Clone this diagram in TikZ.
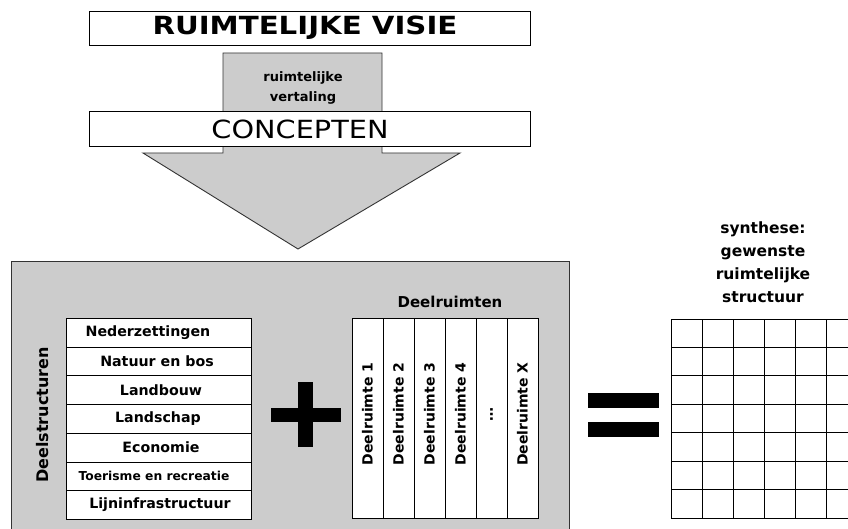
\documentclass[tikz,border=0pt]{standalone}
\usepackage{fontspec}
\setmainfont{DejaVu Sans}
\definecolor{fillgray}{RGB}{204,204,204}
\begin{document}
\begin{tikzpicture}[x=1pt,y=-1pt,
  gbox/.style={draw=black!80, line width=0.9pt, fill=fillgray},
  wbox/.style={draw=black, line width=1pt, fill=white, inner sep=0pt},
  rowtxt/.style={font=\fontsize{14.2}{16}\selectfont\bfseries, inner sep=0pt},
  coltxt/.style={font=\fontsize{14}{16}\selectfont\bfseries, inner sep=0pt, rotate=90},
  bar/.style={fill=black}]
\useasboundingbox (0,0) rectangle (848,529);
\clip (0,0) rectangle (848,529);

% top: visie box
\node[wbox, minimum width=441, minimum height=34, anchor=north west] (visie) at (89,11) {};
\node[font=\fontsize{25}{28}\selectfont\bfseries, inner sep=0pt] (visietxt) at (305,28) {\scalebox{1.17}[1]{RUIMTELIJKE VISIE}};

% big arrow
\draw[gbox] (223,53) -- (223,153) -- (143,153) -- (298,249) -- (460,153) -- (382,153) -- (382,53) -- cycle;
\node[font=\fontsize{13}{20}\selectfont\bfseries, align=center, inner sep=0pt] (vertaling) at (303,88) {ruimtelijke\\vertaling};

% concepten box
\node[wbox, minimum width=441, minimum height=35, anchor=north west] (concepten) at (89,111) {};
\node[font=\fontsize{25}{28}\selectfont, inner sep=0pt] (conceptentxt) at (300,129) {\scalebox{1.15}[1]{CONCEPTEN}};

% big gray panel
\draw[gbox] (11,261) rectangle (569,545);

% Deelstructuren
\node[font=\fontsize{16}{18}\selectfont\bfseries, rotate=90, inner sep=0pt] (dslabel) at (43,415) {Deelstructuren};
\foreach \i/\t/\cx/\fs in {0/Nederzettingen/148/14.2, 1/Natuur en bos/157/14.2, 2/Landbouw/161/14.2, 3/Landschap/158/14.2, 4/Economie/161/14.2, 5/Toerisme en recreatie/154/12.3, 6/Lijninfrastructuur/160/14.2}{
  \pgfmathsetmacro{\ytop}{318+\i*28.714}
  \node[wbox, minimum width=185, minimum height=28.714, anchor=north west] (row\i) at (66,\ytop) {};
  \node[font=\fontsize{\fs}{16}\selectfont\bfseries, inner sep=0pt] (rowtxt\i) at (\cx,\ytop+14.357) {\t};
}

% plus sign
\fill[bar] (298,382) rectangle (313,447);
\fill[bar] (271,408) rectangle (341,422);

% Deelruimten
\node[font=\fontsize{15}{17}\selectfont\bfseries, inner sep=0pt] (drlabel) at (450,302) {Deelruimten};
\foreach \j/\t in {0/Deelruimte 1, 1/Deelruimte 2, 2/Deelruimte 3, 3/Deelruimte 4, 4/{\ldots}, 5/Deelruimte X}{
  \pgfmathsetmacro{\xl}{352+\j*31}
  \node[wbox, minimum width=31, minimum height=200, anchor=north west] (col\j) at (\xl,318) {};
  \node[coltxt] (coltxt\j) at (\xl+15.5,414) {\t};
}

% equals sign
\fill[bar] (588,393) rectangle (659,408);
\fill[bar] (588,422) rectangle (659,437);

% synthese
\node[font=\fontsize{15.5}{23}\selectfont\bfseries, align=center, inner sep=0pt] (synthese) at (763,262) {synthese:\\gewenste\\ruimtelijke\\structuur};

% grid
\foreach \k in {0,...,6}{
  \foreach \m in {0,...,5}{
    \draw[line width=1pt, fill=white] (671+\m*31,319+\k*28.43) rectangle ++(31,28.43);
  }
}
\end{tikzpicture}
\end{document}
